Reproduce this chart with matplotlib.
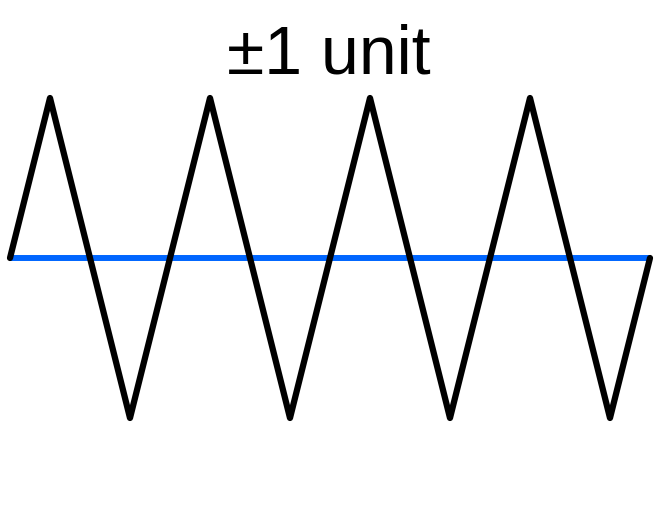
import matplotlib.pyplot as plt

# triangle wave, one value per quarter period
x = [0, 1, 3, 5, 7, 9, 11, 13, 15, 16]
y = [0, 1, -1, 1, -1, 1, -1, 1, -1, 0]
ref_x = [0, 16]
ref_y = [0, 0]
title = '\u00b11 unit'

plt.rcParams['font.family'] = ['Liberation Sans', 'DejaVu Sans']

fig = plt.figure(figsize=(6.6, 5.08), dpi=100)
ax = fig.add_axes([10/660, 90/508, 640/660, 320/508])
ax.plot(ref_x, ref_y, color='#0066ff', lw=4.3, solid_capstyle='butt', clip_on=False, zorder=1)
ax.plot(x, y, color='black', lw=4.5, solid_capstyle='round', solid_joinstyle='round', clip_on=False, zorder=2)
ax.set_xlim(0, 16)
ax.set_ylim(-1, 1)
ax.axis('off')

fig.text(329/660, (508-73)/508, title, ha='center', va='baseline', fontsize=49)

fig.savefig('out.png', dpi=100)
